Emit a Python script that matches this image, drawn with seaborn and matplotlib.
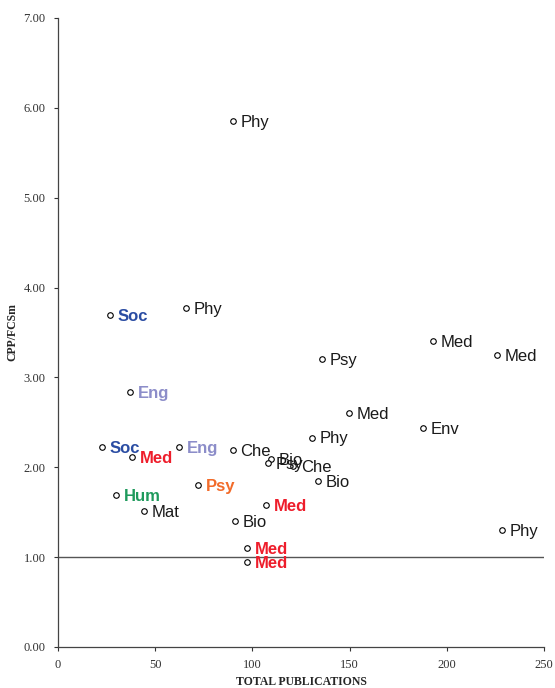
import matplotlib
matplotlib.use("Agg")
import matplotlib.pyplot as plt
import seaborn as sns
import pandas as pd
from matplotlib.ticker import FormatStrFormatter

# Publication output vs. field-normalised impact per research unit
total_publications = [90, 26.7, 65.8, 37, 193, 226, 135.8, 149.7, 187.8, 130.7,
                      22.6, 38, 62.2, 90, 109.6, 108, 121, 134, 29.8, 72,
                      107, 44.2, 91, 97.2, 97.2, 228.4]
cpp_fcsm = [5.85, 3.69, 3.77, 2.84, 3.40, 3.25, 3.20, 2.60, 2.44, 2.33,
            2.22, 2.11, 2.22, 2.19, 2.09, 2.05, 2.01, 1.85, 1.69, 1.80,
            1.58, 1.51, 1.40, 1.10, 0.95, 1.30]
field = ["Phy", "Soc", "Phy", "Eng", "Med", "Med", "Psy", "Med", "Env", "Phy",
         "Soc", "Med", "Eng", "Che", "Bio", "Psy", "Che", "Bio", "Hum", "Psy",
         "Med", "Mat", "Bio", "Med", "Med", "Phy"]
highlighted = [False, True, False, True, False, False, False, False, False, False,
               True, True, True, False, False, False, False, False, True, True,
               True, False, False, True, True, False]

field_colors = {"Soc": "#2B4DA3", "Eng": "#8C8DC9", "Med": "#EE1D2B",
                "Psy": "#F26B2A", "Hum": "#1F9A5C"}

df = pd.DataFrame({"pubs": total_publications, "cpp": cpp_fcsm,
                   "field": field, "hl": highlighted})

sns.set_style("ticks")
fig = plt.figure(figsize=(5.55, 6.88), dpi=100)
ax = fig.add_axes([0.1045, 0.0596, 0.8755, 0.9144])

ax.axhline(1.0, color="#555555", lw=1.0, zorder=1)

sns.scatterplot(data=df, x="pubs", y="cpp", ax=ax, s=16, marker="o",
                facecolor="white", edgecolor="black", linewidth=0.8, zorder=3)

for _, r in df.iterrows():
    if r["hl"]:
        color = field_colors[r["field"]]
        weight = "bold"
    else:
        color = "#1a1a1a"
        weight = "normal"
    ax.annotate(r["field"], (r["pubs"], r["cpp"]), xytext=(5.5, -1),
                textcoords="offset points", ha="left", va="center",
                fontsize=12, color=color, fontweight=weight,
                family="Liberation Sans", zorder=4)

ax.set_xlim(0, 250)
ax.set_ylim(0, 7)
ax.set_xticks([0, 50, 100, 150, 200, 250])
ax.set_yticks([0, 1, 2, 3, 4, 5, 6, 7])
ax.yaxis.set_major_formatter(FormatStrFormatter("%.2f"))
for lbl in ax.get_xticklabels() + ax.get_yticklabels():
    lbl.set_family("Liberation Serif")
    lbl.set_fontsize(9)
    lbl.set_color("#333333")
ax.tick_params(direction="out", length=3, width=0.8, colors="#333333", pad=6)
ax.set_xlabel("TOTAL PUBLICATIONS", family="Liberation Serif",
              fontweight="bold", fontsize=8.5, labelpad=3)
ax.set_ylabel("CPP/FCSm", family="Liberation Serif",
              fontweight="bold", fontsize=8.5)
ax.yaxis.set_label_coords(-0.082, 0.5)
sns.despine(ax=ax)
for s in ("left", "bottom"):
    ax.spines[s].set_color("#444444")
    ax.spines[s].set_linewidth(0.9)

fig.savefig("out.png", dpi=100)
